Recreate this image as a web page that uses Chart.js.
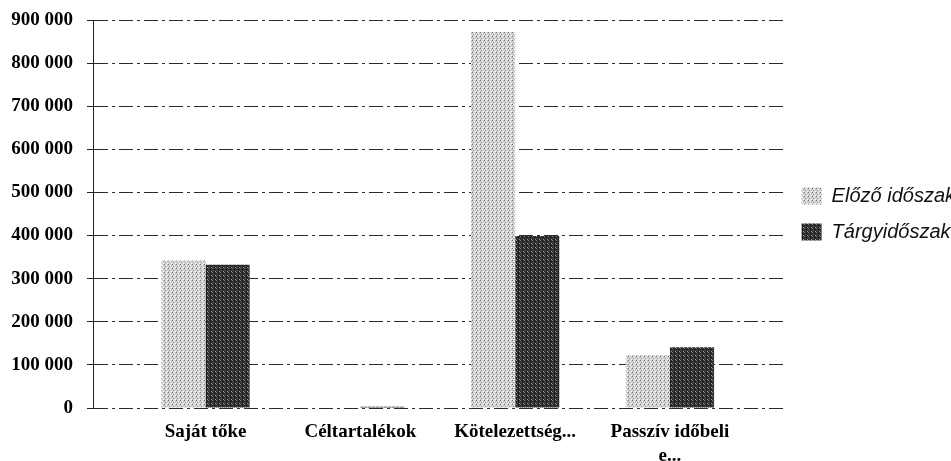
<!DOCTYPE html>
<html>
<head>
<meta charset="utf-8">
<script src="https://cdn.jsdelivr.net/npm/chart.js@4.4.1/dist/chart.umd.min.js"></script>
<style>
  html, body { margin: 0; padding: 0; background: #ffffff; }
  #wrap { width: 951px; height: 461px; position: relative; }
</style>
</head>
<body>
<div id="wrap"><canvas id="c" width="951" height="461"></canvas></div>
<script>
const categories = ['Saját tőke', 'Céltartalékok', 'Kötelezettség...', ['Passzív időbeli', 'e...']];
const seriesNames = ['Előző időszak', 'Tárgyidőszak'];
const previousPeriod = [342000, 0, 872000, 123000];
const currentPeriod = [332000, 3000, 399000, 141000];
const yTicks = [0, 100000, 200000, 300000, 400000, 500000, 600000, 700000, 800000, 900000];

function makePattern(base, dots) {
  const c = document.createElement('canvas');
  c.width = 4; c.height = 4;
  const x = c.getContext('2d');
  x.fillStyle = base; x.fillRect(0, 0, 4, 4);
  dots.forEach(d => { x.fillStyle = d[2]; x.fillRect(d[0], d[1], 1, 1); });
  return x.createPattern(c, 'repeat');
}
const lightFill = makePattern('#d2d2d2', [[0,0,'#6a6a6a'],[2,1,'#f8f8f8'],[1,2,'#999999'],[3,3,'#ffffff'],[3,1,'#b4b4b4'],[1,0,'#eeeeee']]);
const darkFill = makePattern('#2e2e2e', [[0,0,'#808080'],[2,1,'#0c0c0c'],[1,2,'#5a5a5a'],[3,3,'#9c9c9c'],[2,3,'#1a1a1a']]);

const toPoints = arr => arr.map((v, i) => ({ x: i, y: v }));

new Chart(document.getElementById('c'), {
  type: 'bar',
  data: {
    datasets: [
      { label: seriesNames[0], data: toPoints(previousPeriod), backgroundColor: lightFill, borderWidth: 0 },
      { label: seriesNames[1], data: toPoints(currentPeriod), backgroundColor: darkFill, borderWidth: 0 }
    ]
  },
  options: {
    responsive: false,
    animation: false,
    events: [],
    layout: { padding: { top: 20, right: -14, bottom: 0, left: 0 } },
    datasets: { bar: { categoryPercentage: 0.57, barPercentage: 1.0 } },
    plugins: {
      tooltip: { enabled: false },
      legend: {
        position: 'right',
        fullSize: false,
        align: 'center',
        labels: {
          boxWidth: 20,
          boxHeight: 17,
          padding: 16,
          color: '#111111',
          font: { family: '"Liberation Sans", Arial, sans-serif', style: 'italic', size: 20 }
        }
      }
    },
    scales: {
      x: {
        type: 'linear',
        min: -0.727,
        max: 3.747,
        offset: false,
        grid: { display: false, drawTicks: false },
        border: { display: false },
        afterBuildTicks: (scale) => { scale.ticks = categories.map((c, i) => ({ value: i })); },
        afterFit: (scale) => { scale.height = 53; scale.paddingLeft = 0; scale.paddingRight = 0; },
        ticks: {
          autoSkip: false,
          maxRotation: 0,
          minRotation: 0,
          padding: 12,
          color: '#000000',
          font: { family: '"Liberation Serif", "Times New Roman", serif', weight: 'bold', size: 19, lineHeight: 1.25 },
          callback: (v) => categories[Math.round(v)]
        }
      },
      y: {
        min: 0,
        max: 900000,
        afterBuildTicks: (scale) => { scale.ticks = yTicks.map(v => ({ value: v })); },
        afterFit: (scale) => { scale.width = 93; scale.paddingTop = 0; scale.paddingBottom = 0; },
        grid: {
          color: '#2a2a2a',
          lineWidth: 1,
          tickLength: 6,
          tickColor: '#222222',
          tickBorderDash: []
        },
        border: { display: true, color: '#222222', width: 1, dash: [14, 4, 3, 4] },
        ticks: {
          padding: 14,
          color: '#000000',
          font: { family: '"Liberation Serif", "Times New Roman", serif', weight: 'bold', size: 19 },
          callback: (v) => String(v).replace(/\B(?=(\d{3})+(?!\d))/g, ' ')
        }
      }
    }
  }
});
</script>
</body>
</html>
